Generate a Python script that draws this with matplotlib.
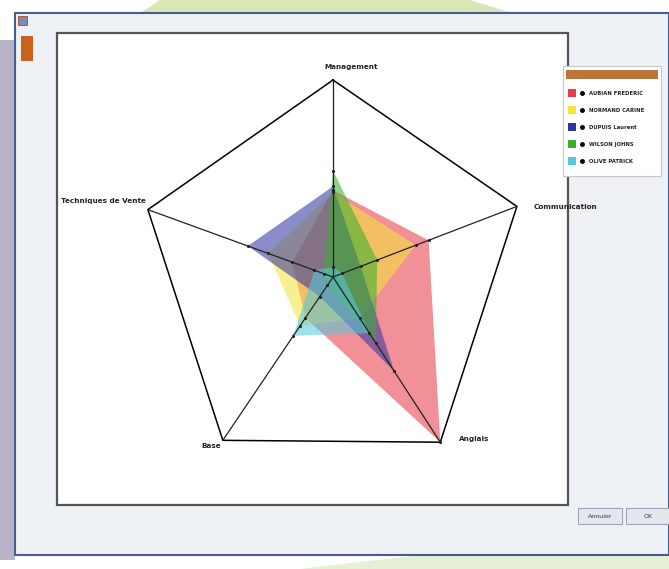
import numpy as np
import matplotlib
matplotlib.use("Agg")
import matplotlib.pyplot as plt
from matplotlib.patches import Rectangle, Polygon

# ---------------- data ----------------
axes_labels = ["Management", "Communication", "Anglais", "Base", "Techniques de Vente"]
series_names = ["AUBIAN FREDERIC", "NORMAND CARINE", "DUPUIS Laurent", "WILSON JOHNS", "OLIVE PATRICK"]
aubian = [4.4, 5.2, 10.0, 2.5, 2.2]
normand = [4.3, 4.5, 2.5, 3.0, 3.5]
dupuis = [4.6, 1.5, 5.7, 1.2, 4.6]
wilson = [5.4, 2.4, 4.0, 0.5, 0.5]
olive = [0.5, 0.5, 3.4, 3.6, 1.0]
series_values = [aubian, normand, dupuis, wilson, olive]
series_colors = ["#e83a48", "#f4e53a", "#3034a0", "#38b030", "#56c8dc"]
vmax = 10.0

W, H = 669, 569
fig = plt.figure(figsize=(W / 100, H / 100), dpi=100)
fig.patch.set_facecolor("white")

# background / window decoration in pixel coordinates
bg = fig.add_axes([0, 0, 1, 1])
bg.set_xlim(0, W)
bg.set_ylim(H, 0)
bg.axis("off")
bg.add_patch(Polygon([(160, 0), (470, 0), (600, 40), (100, 40)], closed=True,
                     facecolor="#d9e7b4", edgecolor="none"))
bg.add_patch(Polygon([(530, 25), (640, 35), (640, 60), (530, 50)], closed=True,
                     facecolor="#c8b6dc", edgecolor="none"))
bg.add_patch(Rectangle((0, 40), 15, 520, facecolor="#b9b3c9", edgecolor="none"))
bg.add_patch(Polygon([(300, 569), (669, 569), (669, 545), (420, 555)], closed=True,
                     facecolor="#e6f0d4", edgecolor="none"))
# window
bg.add_patch(Rectangle((15, 13), 654, 542, facecolor="#eef1f5", edgecolor="#4a5d8f", lw=1.5))
bg.add_patch(Rectangle((18, 16), 9, 9, facecolor="#7a8fb0", edgecolor="#c04020", lw=0.6))
bg.add_patch(Rectangle((21, 36), 12, 25, facecolor="#c8621d", edgecolor="none"))
# plot frame
bg.add_patch(Rectangle((57, 33), 511, 472, facecolor="white", edgecolor="#555555", lw=1.6))
# buttons
for x0, txt in [(578, "Annuler"), (626, "OK")]:
    bg.add_patch(Rectangle((x0, 508), 44, 16, facecolor="#e4e8ee", edgecolor="#9aa6b8", lw=0.8))
    bg.text(x0 + 22, 516, txt, fontsize=4.5, ha="center", va="center", color="#333333")

# ---------------- radar ----------------
cx, cy, R = 333, 277, 197
half = 230
ax = fig.add_axes([(cx - half) / W, 1 - (cy + half) / H, 2 * half / W, 2 * half / H])
ax.set_xlim(-half / R, half / R)
ax.set_ylim(-half / R, half / R)
ax.set_aspect("equal")
ax.axis("off")

angles = np.deg2rad([90, 21, -57, -124, 160])
ux, uy = np.cos(angles), np.sin(angles)

# outline and spokes
ax.plot(np.append(ux, ux[0]), np.append(uy, uy[0]), color="black", lw=1.1, zorder=5)
for x, y in zip(ux, uy):
    ax.plot([0, x], [0, y], color="#222222", lw=0.9, zorder=5)

for vals, col in zip(series_values, series_colors):
    r = np.array(vals) / vmax
    xs, ys = r * ux, r * uy
    ax.fill(xs, ys, color=col, alpha=0.56, lw=0, zorder=3)
    ax.scatter(xs, ys, s=1.5, color="#222222", zorder=6)

label_pos = [(0.09, 1.05, "center", "bottom"),
             (1.02, 0.34, "left", "bottom"),
             (0.64, -0.82, "left", "center"),
             (-0.57, -0.86, "right", "center"),
             (-0.95, 0.37, "right", "bottom")]
for (lx, ly, ha, va), lab in zip(label_pos, axes_labels):
    ax.text(lx, ly, lab, fontsize=5.2, ha=ha, va=va, color="#222222", fontweight="bold")

# ---------------- legend ----------------
bg.add_patch(Rectangle((563, 66), 98, 110, facecolor="white", edgecolor="#c8c8c8", lw=0.8))
bg.add_patch(Rectangle((566, 70), 92, 9, facecolor="#b8763a", edgecolor="none"))
for i, (name, col) in enumerate(zip(series_names, series_colors)):
    y = 93 + i * 17
    bg.add_patch(Rectangle((568, y - 4), 8, 8, facecolor=col, edgecolor="none"))
    bg.plot(582, y, marker="o", ms=2.5, color="black")
    bg.text(589, y, name, fontsize=3.8, va="center", ha="left", color="#222222",
            fontweight="bold")

fig.savefig("out.png", dpi=100, facecolor=fig.get_facecolor())
